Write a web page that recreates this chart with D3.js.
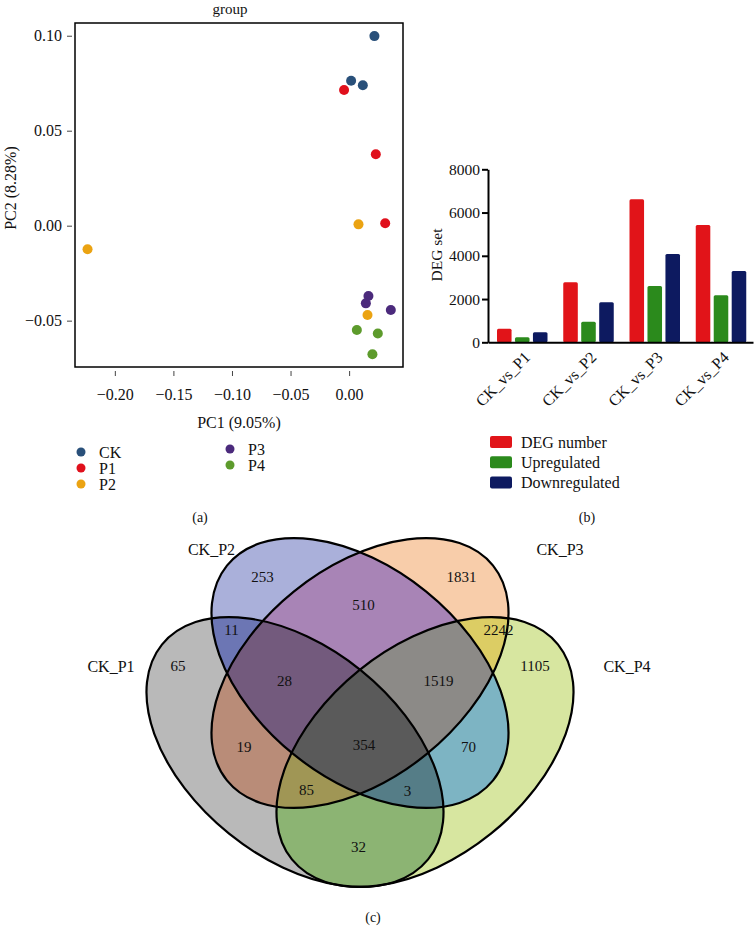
<!DOCTYPE html>
<html lang="en">
<head>
<meta charset="UTF-8">
<title>PCA, DEG counts and Venn</title>
<style>
  body { margin: 0; background: #fff; }
  svg { display: block; font-family: "Liberation Serif", "Times New Roman", serif; }
  text { fill: #111; }
</style>
<script src="https://cdn.jsdelivr.net/npm/d3@7"></script>
</head>
<body>
<svg id="fig" width="754" height="926"></svg>
<script>
// ---- data: (a) PCA
const groups = ['CK', 'P1', 'P2', 'P3', 'P4'];
const pcaGroup = ['CK', 'CK', 'CK', 'P1', 'P1', 'P1', 'P2', 'P2', 'P2', 'P3', 'P3', 'P3', 'P4', 'P4', 'P4'];
const pc1 = [0.0216, 0.0017, 0.0117, -0.0043, 0.0228, 0.0308, 0.0080, -0.2233, 0.0157, 0.0165, 0.0143, 0.0356, 0.0066, 0.0245, 0.0199];
const pc2 = [0.0998, 0.0763, 0.0739, 0.0714, 0.0376, 0.0013, 0.0007, -0.0124, -0.0470, -0.0370, -0.0409, -0.0444, -0.0549, -0.0568, -0.0677];
const pcaXTicks = [-0.20, -0.15, -0.10, -0.05, 0.00];
const pcaYTicks = [-0.05, 0.00, 0.05, 0.10];

// ---- data: (b) DEG counts
const comparisons = ['CK_vs_P1', 'CK_vs_P2', 'CK_vs_P3', 'CK_vs_P4'];
const degSeries = ['DEG number', 'Upregulated', 'Downregulated'];
const degNumber = [630, 2780, 6610, 5420];
const upregulated = [230, 950, 2600, 2170];
const downregulated = [460, 1850, 4080, 3300];
const degTicks = [0, 2000, 4000, 6000, 8000];

// ---- data: (c) Venn
const vennSets = ['CK_P1', 'CK_P2', 'CK_P3', 'CK_P4'];
const vennRegions = ['1000', '0100', '0010', '0001', '1100', '0110', '0011', '1110', '0111', '1010', '0101', '1111', '1011', '1101', '1001'];
const vennCounts = [65, 253, 1831, 1105, 11, 510, 2242, 28, 1519, 19, 70, 354, 85, 3, 32];

const svg = d3.select('#fig');

// ================= (a) PCA =================
const xPca = d3.scaleLinear().domain([-0.234, 0.046]).range([75, 403]);
const yPca = d3.scaleLinear().domain([-0.0744, 0.1067]).range([367, 23]);
const pcaColor = d3.scaleOrdinal().domain(groups)
  .range(['#29507a', '#e0101c', '#eba312', '#4b2a7c', '#5d9b2c']);

const gA = svg.append('g');
gA.append('rect')
  .attr('x', xPca.range()[0]).attr('y', yPca.range()[1])
  .attr('width', xPca.range()[1] - xPca.range()[0])
  .attr('height', yPca.range()[0] - yPca.range()[1])
  .attr('fill', 'none').attr('stroke', '#000').attr('stroke-width', 1.5);

const axY = gA.append('g')
  .attr('transform', `translate(${xPca.range()[0] - 3},0)`)
  .call(d3.axisLeft(yPca).tickValues(pcaYTicks).tickFormat(d3.format('.2f')).tickSize(5).tickPadding(5));
const axX = gA.append('g')
  .attr('transform', `translate(0,${yPca.range()[0] + 4})`)
  .call(d3.axisBottom(xPca).tickValues(pcaXTicks).tickFormat(d3.format('.2f')).tickSize(5).tickPadding(13));
[axX, axY].forEach(ax => {
  ax.attr('font-family', null).attr('font-size', 16);
  ax.select('.domain').remove();
  ax.selectAll('.tick line').attr('stroke', '#444');
});

gA.selectAll('circle.pt')
  .data(pc1.map((d, i) => ({x: d, y: pc2[i], g: pcaGroup[i]})))
  .enter().append('circle')
  .attr('class', 'pt')
  .attr('cx', d => xPca(d.x))
  .attr('cy', d => yPca(d.y))
  .attr('r', 5)
  .attr('fill', d => pcaColor(d.g));

gA.append('text').attr('x', 230).attr('y', 14).attr('text-anchor', 'middle')
  .attr('font-size', 15).text('group');
gA.append('text').attr('x', 239).attr('y', 428).attr('text-anchor', 'middle')
  .attr('font-size', 16).text('PC1 (9.05%)');
gA.append('text').attr('transform', 'translate(16,188) rotate(-90)')
  .attr('text-anchor', 'middle').attr('font-size', 16).text('PC2 (8.28%)');

const legA = gA.selectAll('g.leg')
  .data(groups).enter().append('g')
  .attr('transform', (d, i) => `translate(${i < 3 ? 81 : 230},${(i < 3 ? 452 : 449) + (i % 3) * 16})`);
legA.append('circle').attr('r', 4.5).attr('fill', d => pcaColor(d));
legA.append('text').attr('x', 18).attr('dy', '0.35em').attr('font-size', 16).text(d => d);

svg.append('text').attr('x', 200).attr('y', 522).attr('text-anchor', 'middle')
  .attr('font-size', 14).text('(a)');

// ================= (b) DEG bars =================
const x0 = d3.scaleBand().domain(comparisons).range([488, 753]);
const x1 = d3.scaleBand().domain(degSeries).range([9, 59.5]).paddingInner(0.19);
const yBar = d3.scaleLinear().domain([0, 8000]).range([342.3, 169.3]);
const barColor = d3.scaleOrdinal().domain(degSeries).range(['#e11419', '#2b8a1c', '#0d1a60']);
const degValues = [degNumber, upregulated, downregulated];

const gB = svg.append('g');
const grp = gB.selectAll('g.grp')
  .data(comparisons).enter().append('g')
  .attr('transform', d => `translate(${x0(d)},0)`);
grp.selectAll('rect')
  .data((c, ci) => degSeries.map((s, si) => ({s, v: degValues[si][ci]})))
  .enter().append('rect')
  .attr('x', d => x1(d.s))
  .attr('width', x1.bandwidth())
  .attr('y', d => yBar(d.v))
  .attr('height', d => yBar(0) - yBar(d.v))
  .attr('rx', 1.5)
  .attr('fill', d => barColor(d.s));

const byAx = gB.append('g').attr('transform', `translate(488,0)`)
  .call(d3.axisLeft(yBar).tickValues(degTicks).tickFormat(d3.format('d')).tickSize(6).tickPadding(2).tickSizeOuter(0));
byAx.attr('font-family', null).attr('font-size', 15.5);
byAx.selectAll('.domain, .tick line').attr('stroke-width', 2);

const bxAx = gB.append('g').attr('transform', `translate(0,${yBar(0)})`)
  .call(d3.axisBottom(x0).tickSize(0).tickSizeOuter(0));
bxAx.attr('font-family', null).attr('font-size', 16);
bxAx.select('.domain').attr('stroke-width', 2);
bxAx.selectAll('.tick text')
  .attr('text-anchor', 'end')
  .attr('dy', '0.35em')
  .attr('transform', 'translate(4,10) rotate(-45)');

gB.append('text').attr('transform', 'translate(442,255) rotate(-90)')
  .attr('text-anchor', 'middle').attr('font-size', 15.5).text('DEG set');

const legB = gB.selectAll('g.legb')
  .data(degSeries).enter().append('g')
  .attr('transform', (d, i) => `translate(490,${436 + i * 20.3})`);
legB.append('rect').attr('width', 22).attr('height', 12).attr('rx', 2)
  .attr('fill', d => barColor(d));
legB.append('text').attr('x', 31).attr('y', 6).attr('dy', '0.35em')
  .attr('font-size', 16).text(d => d);

svg.append('text').attr('x', 587).attr('y', 522).attr('text-anchor', 'middle')
  .attr('font-size', 14).text('(b)');

// ================= (c) Venn =================
// layout in unit square, like VennDiagram's quad layout
const vx = d3.scaleLinear().domain([0, 1]).range([110, 610]);
const vy = d3.scaleLinear().domain([0, 1]).range([923, 423]);
const vr = d3.scaleLinear().domain([0, 1]).range([0, 500]);
const ellipses = [
  {cx: 0.37, cy: 0.342, rot: 38.9},
  {cx: 0.50, cy: 0.500, rot: 38.9},
  {cx: 0.50, cy: 0.500, rot: -38.9},
  {cx: 0.63, cy: 0.342, rot: -38.9}
];
const semiA = 0.342, semiB = 0.21;
const regionFill = {
  '1000': '#b9b9b9', '0100': '#aab0da', '0010': '#f8cdaa', '0001': '#d7e6a0',
  '1100': '#6c76b4', '0110': '#a884b6', '0011': '#dccd64', '1110': '#735a7d',
  '0111': '#8c8a87', '1010': '#b98c78', '0101': '#7db4c3', '1111': '#5a5a5a',
  '1011': '#a09655', '1101': '#557d87', '1001': '#8cb473'
};
const labelPos = {
  '1000': [0.136, 0.514], '0100': [0.305, 0.693], '0010': [0.703, 0.693], '0001': [0.850, 0.514],
  '1100': [0.243, 0.587], '0110': [0.507, 0.637], '0011': [0.777, 0.587], '1110': [0.349, 0.484],
  '0111': [0.657, 0.484], '1010': [0.268, 0.353], '0101': [0.717, 0.353], '1111': [0.508, 0.356],
  '1011': [0.393, 0.266], '1101': [0.595, 0.264], '1001': [0.497, 0.153]
};
const setLabelPos = [[0.002, 0.514], [0.203, 0.747], [0.900, 0.747], [1.034, 0.514]];

function ellipseAttrs(sel) {
  sel.attr('cx', d => vx(d.cx)).attr('cy', d => vy(d.cy))
    .attr('rx', vr(semiA)).attr('ry', vr(semiB))
    .attr('transform', d => `rotate(${d.rot},${vx(d.cx)},${vy(d.cy)})`);
}

const defs = svg.append('defs');
ellipses.forEach((e, i) => {
  defs.append('clipPath').attr('id', 'in' + i)
    .selectAll('ellipse').data([e]).enter().append('ellipse').call(ellipseAttrs);
  const m = defs.append('mask').attr('id', 'out' + i)
    .attr('maskUnits', 'userSpaceOnUse')
    .attr('x', 0).attr('y', 400).attr('width', 754).attr('height', 526);
  m.append('rect').attr('x', 0).attr('y', 400).attr('width', 754).attr('height', 526).attr('fill', '#fff');
  m.selectAll('ellipse').data([e]).enter().append('ellipse').call(ellipseAttrs).attr('fill', '#000');
});

const gC = svg.append('g');
vennRegions.forEach(code => {
  let g = gC.append('g');
  code.split('').forEach((bit, i) => {
    g = g.append('g').attr(bit === '1' ? 'clip-path' : 'mask', bit === '1' ? `url(#in${i})` : `url(#out${i})`);
  });
  g.append('rect').attr('x', 100).attr('y', 400).attr('width', 560).attr('height', 526)
    .attr('fill', regionFill[code]);
});

gC.selectAll('ellipse.outline')
  .data(ellipses).enter().append('ellipse')
  .attr('class', 'outline')
  .call(ellipseAttrs)
  .attr('fill', 'none').attr('stroke', '#000').attr('stroke-width', 2.2);

gC.selectAll('text.cnt')
  .data(vennRegions).enter().append('text')
  .attr('class', 'cnt')
  .attr('x', d => vx(labelPos[d][0]))
  .attr('y', d => vy(labelPos[d][1]))
  .attr('dy', '0.35em')
  .attr('text-anchor', 'middle')
  .attr('font-size', 15)
  .text((d, i) => vennCounts[i]);

gC.selectAll('text.set')
  .data(vennSets).enter().append('text')
  .attr('class', 'set')
  .attr('x', (d, i) => vx(setLabelPos[i][0]))
  .attr('y', (d, i) => vy(setLabelPos[i][1]))
  .attr('dy', '0.35em')
  .attr('text-anchor', 'middle')
  .attr('font-size', 16)
  .text(d => d);

svg.append('text').attr('x', 373).attr('y', 922).attr('text-anchor', 'middle')
  .attr('font-size', 14).text('(c)');
</script>
</body>
</html>
